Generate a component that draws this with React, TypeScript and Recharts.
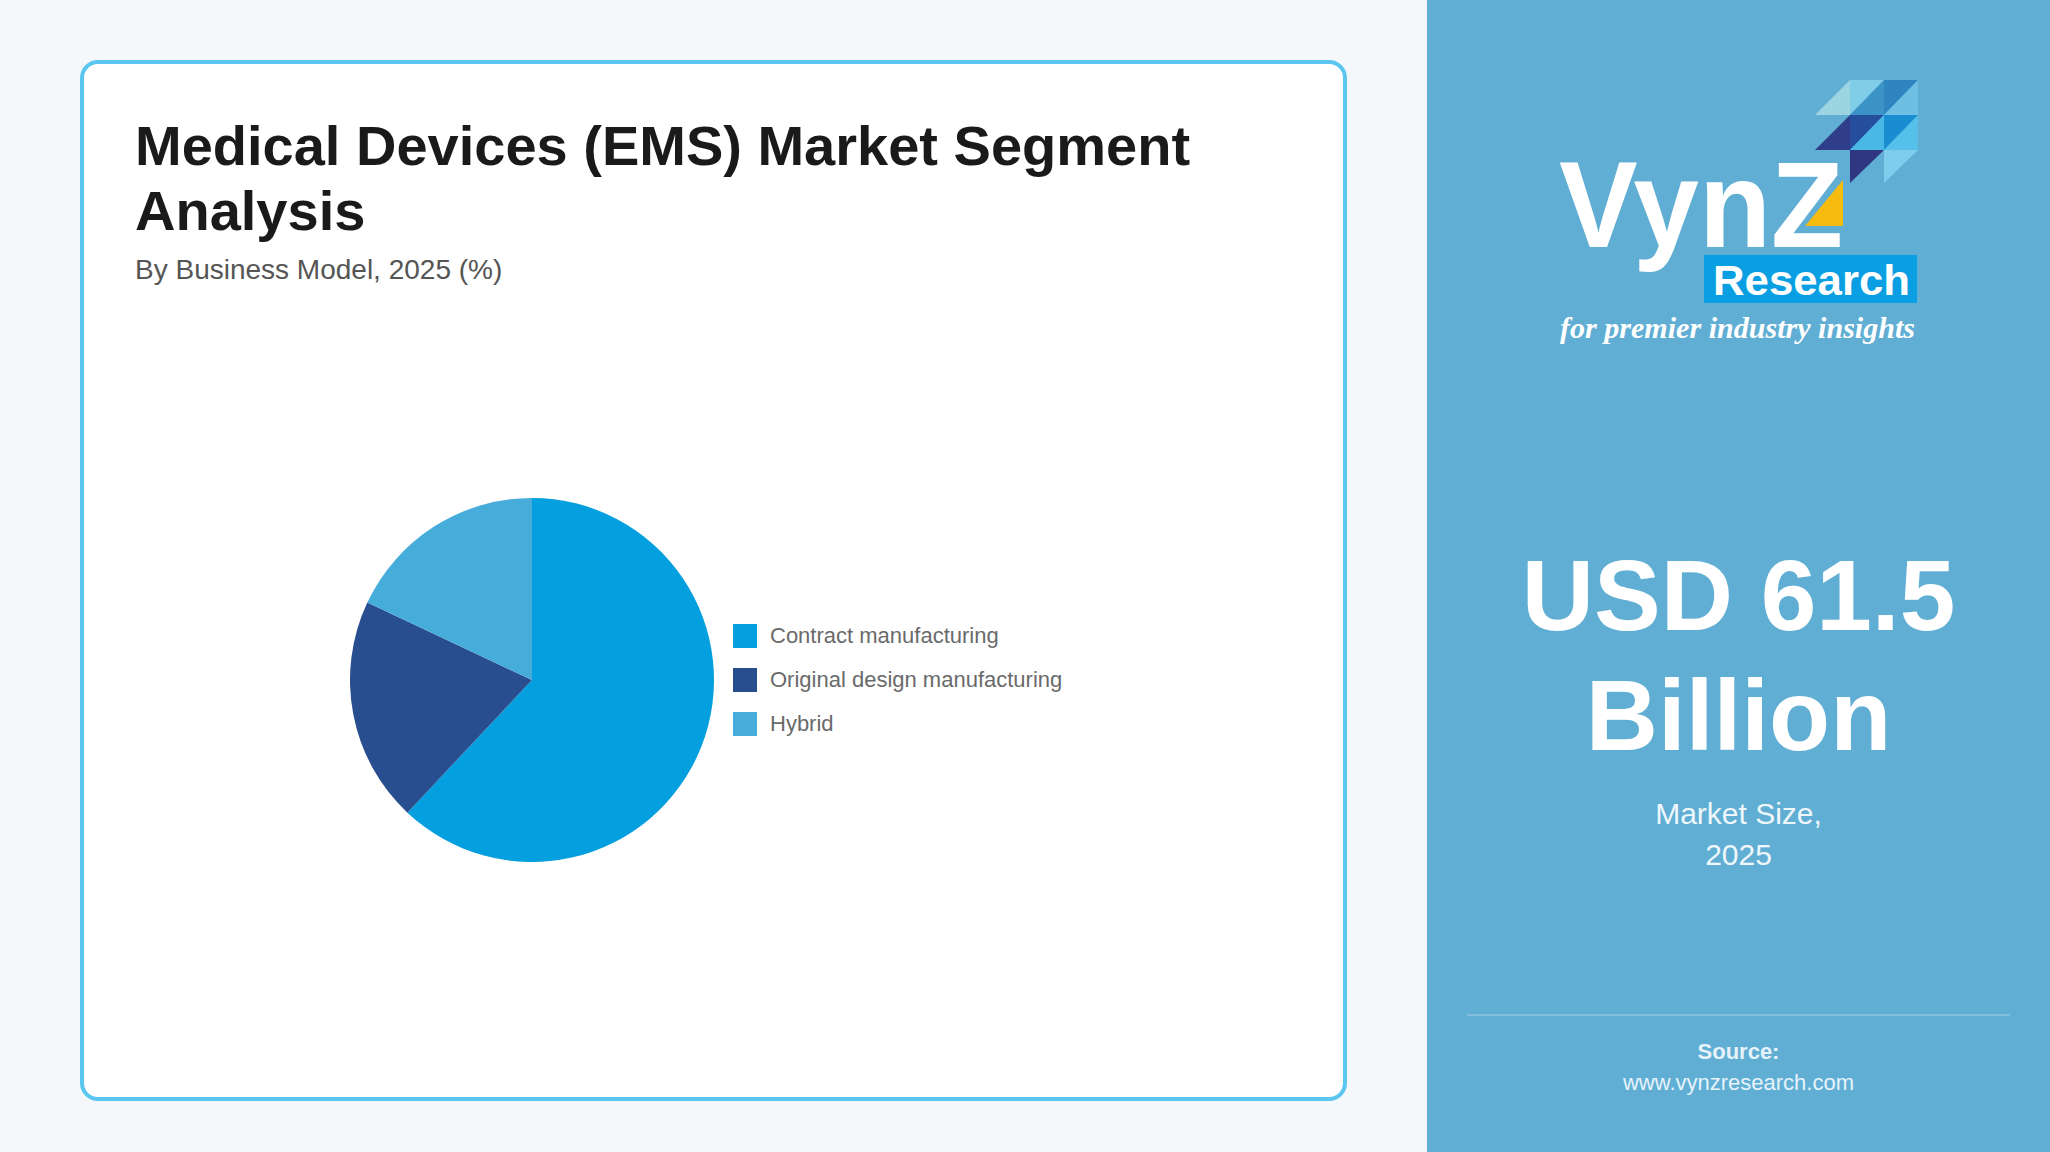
import { PieChart, Pie, Cell, Legend } from "recharts";

const segments = ["Contract manufacturing", "Original design manufacturing", "Hybrid"];
const shares = [62, 20, 18];
const sliceColors = ["#039fdf", "#294e8f", "#46acd9"];

const pieData = segments.map((name, i) => ({ name, value: shares[i] }));

const SANS = "'Liberation Sans', Arial, Helvetica, sans-serif";

// keep legend rows in the data order (recharts sorts by name otherwise)
const LegendList = ({ payload }: any) => {
  const rows = [...(payload || [])].sort(
    (a: any, b: any) => segments.indexOf(a.value) - segments.indexOf(b.value)
  );
  return (
    <ul style={{ listStyle: "none", margin: 0, padding: 0, fontFamily: SANS }}>
      {rows.map((entry: any) => (
        <li
          key={entry.value}
          style={{ display: "flex", alignItems: "center", height: 44 }}
        >
          <span
            style={{
              width: 24,
              height: 24,
              background: entry.color,
              display: "inline-block",
              marginRight: 13,
            }}
          />
          <span style={{ fontSize: 22, color: "#6a6a6a" }}>{entry.value}</span>
        </li>
      ))}
    </ul>
  );
};

// logo mosaic, page coordinates
const tiles: [string, string][] = [
  ["1815,115 1850,80 1850,115", "#9cd4e2"],
  ["1850,80 1884,80 1850,115", "#7fcde6"],
  ["1884,80 1884,115 1850,115", "#3b93c8"],
  ["1884,80 1918,80 1884,115", "#2e85bf"],
  ["1918,80 1918,115 1884,115", "#6dbfe3"],
  ["1815,150 1850,115 1850,150", "#2f3d8a"],
  ["1850,115 1884,115 1850,150", "#254f9d"],
  ["1884,115 1884,150 1850,150", "#4ab8e7"],
  ["1884,115 1918,115 1884,150", "#1a8dd2"],
  ["1918,115 1918,150 1884,150", "#55c1ea"],
  ["1850,150 1884,150 1850,183", "#2e3780"],
  ["1884,150 1918,150 1884,183", "#7fcdec"],
];

const Logo = () => (
  <svg
    width={400}
    height={300}
    viewBox="1540 70 400 300"
    style={{ position: "absolute", left: 1540, top: 70 }}
  >
    {tiles.map(([pts, c], i) => (
      <polygon key={i} points={pts} fill={c} />
    ))}
    <polygon points="1805,226 1843,180 1843,226" fill="#f6bb0f" />
    <text
      x={1559}
      y={247}
      fontFamily={SANS}
      fontWeight="bold"
      fontSize={122}
      fill="#fff"
      textLength={284}
      lengthAdjust="spacingAndGlyphs"
    >
      VynZ
    </text>
    <rect x={1704} y={255} width={213} height={48} fill="#0a9fe2" />
    <text
      x={1713}
      y={295}
      fontFamily={SANS}
      fontWeight="bold"
      fontSize={43}
      fill="#fff"
      textLength={197}
      lengthAdjust="spacingAndGlyphs"
    >
      Research
    </text>
    <text
      x={1560}
      y={338}
      fontFamily="'Liberation Serif', serif"
      fontStyle="italic"
      fontWeight="bold"
      fontSize={30}
      fill="#fff"
      textLength={355}
      lengthAdjust="spacingAndGlyphs"
    >
      for premier industry insights
    </text>
  </svg>
);

export default function App() {
  return (
    <div
      style={{
        position: "absolute",
        left: 0,
        top: 0,
        width: 2050,
        height: 1152,
        background: "#f5f8fb",
        overflow: "hidden",
        fontFamily: SANS,
      }}
    >
      <div
        style={{
          position: "absolute",
          left: 80,
          top: 60,
          width: 1267,
          height: 1041,
          boxSizing: "border-box",
          border: "4px solid #5bc6ef",
          borderRadius: 18,
          background: "#fff",
        }}
      />
      <div
        style={{
          position: "absolute",
          left: 135,
          top: 113,
          fontSize: 56,
          lineHeight: "65px",
          fontWeight: "bold",
          color: "#1a1a1a",
          whiteSpace: "nowrap",
        }}
      >
        Medical Devices (EMS) Market Segment
        <br />
        Analysis
      </div>
      <div
        style={{
          position: "absolute",
          left: 135,
          top: 254,
          fontSize: 28,
          lineHeight: "32px",
          color: "#555",
          whiteSpace: "nowrap",
        }}
      >
        By Business Model, 2025 (%)
      </div>

      <div style={{ position: "absolute", left: 100, top: 330 }}>
        <PieChart width={1000} height={700} margin={{ top: 0, right: 0, bottom: 0, left: 0 }}>
          <Pie
            data={pieData}
            dataKey="value"
            nameKey="name"
            cx={432}
            cy={350}
            outerRadius={182}
            startAngle={90}
            endAngle={-270}
            stroke="none"
            isAnimationActive={false}
          >
            {pieData.map((d, i) => (
              <Cell key={d.name} fill={sliceColors[i]} />
            ))}
          </Pie>
          <Legend
            layout="vertical"
            align="center"
            verticalAlign="middle"
            content={<LegendList />}
            wrapperStyle={{ left: 633, top: 284, width: 400 }}
          />
        </PieChart>
      </div>

      <div
        style={{
          position: "absolute",
          left: 1427,
          top: 0,
          width: 623,
          height: 1152,
          background: "#61aed4",
        }}
      >
        <div
          style={{
            position: "absolute",
            left: 0,
            width: 623,
            top: 535,
            textAlign: "center",
            fontSize: 100,
            lineHeight: "120px",
            fontWeight: "bold",
            color: "#fff",
          }}
        >
          USD 61.5
          <br />
          Billion
        </div>
        <div
          style={{
            position: "absolute",
            left: 0,
            width: 623,
            top: 793,
            textAlign: "center",
            fontSize: 30,
            lineHeight: "41px",
            color: "#eef7fb",
          }}
        >
          Market Size,
          <br />
          2025
        </div>
        <div
          style={{
            position: "absolute",
            left: 40,
            width: 543,
            top: 1014,
            height: 2,
            background: "rgba(255,255,255,0.22)",
          }}
        />
        <div
          style={{
            position: "absolute",
            left: 0,
            width: 623,
            top: 1036,
            textAlign: "center",
            fontSize: 22,
            lineHeight: "31px",
            color: "#e6f3fa",
          }}
        >
          <b>Source:</b>
          <br />
          www.vynzresearch.com
        </div>
      </div>
      <Logo />
    </div>
  );
}
